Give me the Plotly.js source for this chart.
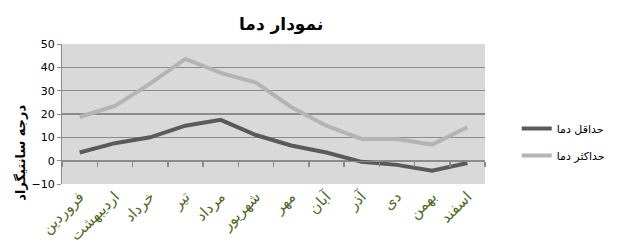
<!DOCTYPE html>
<html><head><meta charset="utf-8">
<script src="https://cdn.plot.ly/plotly-3.0.1.min.js"></script>
<style>body{margin:0;background:#fff}#c{width:622px;height:243px}</style>
</head><body><div id="c"></div>
<script>
var months = ["فروردین","اردیبهشت","خرداد","تیر","مرداد","شهریور","مهر","آبان","آذر","دی","بهمن","اسفند"];
var minTemp = [3.5, 7.5, 10, 15, 17.5, 11, 6.5, 3.5, -0.5, -1.8, -4.3, -1];
var maxTemp = [18.7, 23.5, 33, 43.6, 37.6, 33.5, 23, 15, 9.3, 9.3, 6.9, 14.3];
var nameMin = "حداقل دما";
var nameMax = "حداکثر دما";
var titleText = "نمودار دما";
var yTitle = "درجه سانتیگراد";

var font = "DejaVu Sans, sans-serif";
var traces = [
  {x: months, y: minTemp, name: nameMin, legendgroup: "a", type: "scatter", mode: "lines",
   line: {color: "#5a5a5a", width: 4}},
  {x: months, y: maxTemp, name: nameMax, legendgroup: "b", type: "scatter", mode: "lines", xaxis: "x2",
   line: {color: "#b4b4b4", width: 4}}
];
var catRange = [-0.5, months.length - 0.5];
var layout = {
  width: 622, height: 243,
  margin: {l: 62, r: 122, t: 44, b: 59},
  paper_bgcolor: "#ffffff", plot_bgcolor: "#d9d9d9",
  font: {family: font, color: "#000"},
  title: {text: "<b>" + titleText + "</b>", font: {size: 17, family: font}, x: 0.452, xanchor: "center", y: 0.9, yanchor: "middle"},
  showlegend: true,
  legend: {x: 1.075, xanchor: "left", y: 0.5, yanchor: "top", font: {size: 11, family: font},
           bgcolor: "rgba(0,0,0,0)", traceorder: "grouped", tracegroupgap: 8, itemwidth: 30},
  annotations: [{text: "<b>" + yTitle + "</b>", textangle: -90, xref: "paper", yref: "paper",
                 x: -0.1, y: 0.221, xanchor: "center", yanchor: "middle", showarrow: false,
                 font: {size: 13, family: font, color: "#000"}}],
  xaxis: {type: "category", range: catRange, showgrid: false, zeroline: false, showline: false, ticks: "",
          tickangle: -45, tickfont: {size: 15, color: "#4f6a25", family: font}},
  xaxis2: {type: "category", range: catRange, overlaying: "x", anchor: "free", position: 0.1667,
           showticklabels: false, showgrid: false, zeroline: false, showline: true,
           linecolor: "#8a8a8a", linewidth: 1.5, ticks: "outside", tickson: "boundaries",
           ticklen: 5, tickwidth: 1.5, tickcolor: "#8a8a8a", side: "bottom"},
  yaxis: {range: [-10, 50], dtick: 10, showgrid: true, gridcolor: "#8c8c8c", gridwidth: 1.2,
          zeroline: false, showline: true, linecolor: "#8c8c8c", ticks: "outside", ticklen: 4,
          tickcolor: "#8c8c8c", tickfont: {size: 11, family: font}}
};
Plotly.newPlot("c", traces, layout, {displayModeBar: false, staticPlot: true});
</script></body></html>
